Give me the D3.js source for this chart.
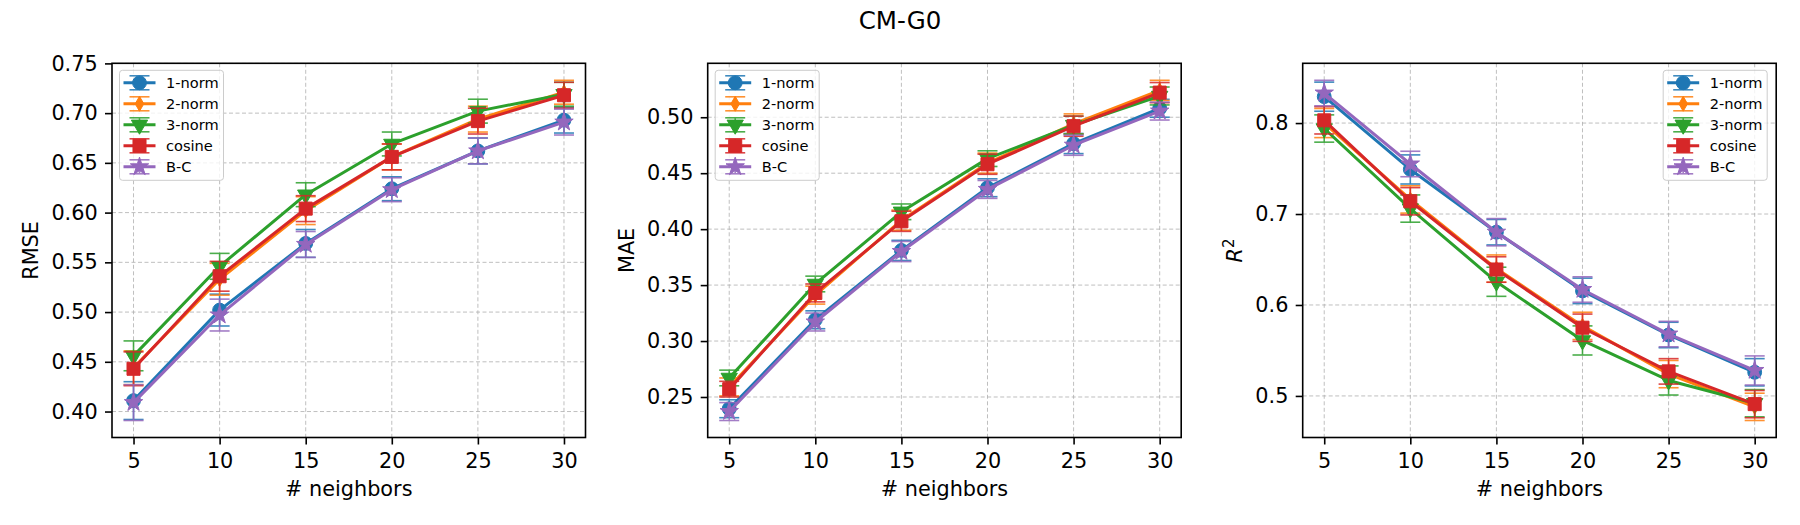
<!DOCTYPE html>
<html>
<head>
<meta charset="utf-8">
<script src="https://cdn.jsdelivr.net/npm/d3@7"></script>
<style>
  body { margin: 0; background: #fff; }
  text { font-family: "DejaVu Sans", sans-serif; fill: #000; }
</style>
</head>
<body>
<div id="chart"></div>
<script>
// data
const neighbors = [5, 10, 15, 20, 25, 30];
const seriesNames = ["1-norm", "2-norm", "3-norm", "cosine", "B-C"];
const seriesColors = ["#1f77b4", "#ff7f0e", "#2ca02c", "#d62728", "#9467bd"];
const seriesMarkers = ["circle", "diamond", "triangleDown", "square", "star"];

// one row per series, in seriesNames order
const rmseMean = [
  [0.411, 0.502, 0.569, 0.624, 0.662, 0.693],
  [0.444, 0.533, 0.602, 0.656, 0.694, 0.721],
  [0.456, 0.546, 0.618, 0.669, 0.702, 0.719],
  [0.443, 0.536, 0.604, 0.656, 0.692, 0.718],
  [0.409, 0.497, 0.568, 0.623, 0.662, 0.691]
];
const rmseErr = [
  [0.019, 0.016, 0.014, 0.012, 0.013, 0.013],
  [0.017, 0.016, 0.014, 0.013, 0.013, 0.012],
  [0.015, 0.013, 0.012, 0.012, 0.012, 0.012],
  [0.017, 0.015, 0.013, 0.013, 0.013, 0.013],
  [0.018, 0.016, 0.013, 0.012, 0.013, 0.013]
];
const maeMean = [
  [0.2395, 0.319, 0.381, 0.437, 0.4765, 0.508],
  [0.259, 0.341, 0.408, 0.459, 0.494, 0.524],
  [0.267, 0.351, 0.4155, 0.463, 0.493, 0.519],
  [0.257, 0.343, 0.407, 0.458, 0.492, 0.522],
  [0.237, 0.317, 0.380, 0.4355, 0.475, 0.5055]
];
const maeErr = [
  [0.008, 0.008, 0.009, 0.008, 0.009, 0.008],
  [0.008, 0.008, 0.009, 0.009, 0.009, 0.009],
  [0.007, 0.007, 0.007, 0.007, 0.008, 0.008],
  [0.007, 0.008, 0.009, 0.009, 0.009, 0.009],
  [0.008, 0.008, 0.009, 0.008, 0.009, 0.008]
];
const r2Mean = [
  [0.829, 0.749, 0.680, 0.6155, 0.567, 0.526],
  [0.800, 0.716, 0.640, 0.577, 0.524, 0.488],
  [0.794, 0.706, 0.6255, 0.561, 0.517, 0.492],
  [0.803, 0.714, 0.639, 0.575, 0.527, 0.491],
  [0.833, 0.755, 0.680, 0.617, 0.568, 0.528]
];
const r2Err = [
  [0.016, 0.016, 0.014, 0.014, 0.014, 0.015],
  [0.016, 0.015, 0.015, 0.015, 0.015, 0.015],
  [0.015, 0.015, 0.016, 0.016, 0.016, 0.015],
  [0.015, 0.015, 0.014, 0.015, 0.014, 0.015],
  [0.014, 0.014, 0.015, 0.014, 0.014, 0.016]
];
const rmseTicks = [0.40, 0.45, 0.50, 0.55, 0.60, 0.65, 0.70, 0.75];
const maeTicks = [0.25, 0.30, 0.35, 0.40, 0.45, 0.50];
const r2Ticks = [0.5, 0.6, 0.7, 0.8];

const panels = [
  { ylabel: "RMSE", mean: rmseMean, err: rmseErr, ticks: rmseTicks, fmt: ".2f", legend: "left" },
  { ylabel: "MAE", mean: maeMean, err: maeErr, ticks: maeTicks, fmt: ".2f", legend: "left" },
  { ylabel: "R2", mean: r2Mean, err: r2Err, ticks: r2Ticks, fmt: ".1f", legend: "right" }
];

const W = 1800, H = 525;
const panelLeft = [112, 707.7, 1302.7];
const panelTop = 63.3, pw = 473.5, ph = 374.2;
const tickFont = 20.8;

const svg = d3.select("#chart").append("svg")
  .attr("width", W).attr("height", H)
  .attr("viewBox", `0 0 ${W} ${H}`);
svg.append("rect").attr("width", W).attr("height", H).attr("fill", "#fff");

svg.append("text")
  .attr("x", W / 2).attr("y", 28.5)
  .attr("text-anchor", "middle")
  .style("font-size", "24.5px")
  .text("CM-G0");

function markerPath(kind) {
  if (kind === "circle") return d3.symbol(d3.symbolCircle, 150)();
  if (kind === "diamond") return d3.symbol(d3.symbolDiamond, 64)();
  if (kind === "triangleDown") return d3.symbol(d3.symbolTriangle, 115)();
  if (kind === "square") return d3.symbol(d3.symbolSquare, 170)();
  return d3.symbol(d3.symbolStar, 105)();
}
function markerTransform(kind, x, y) {
  return kind === "triangleDown" ? `translate(${x},${y}) rotate(180)` : `translate(${x},${y})`;
}

panels.forEach((p, pi) => {
  const g = svg.append("g").attr("transform", `translate(${panelLeft[pi]},${panelTop})`);

  // x scale with matplotlib-like 5% margins
  const xSpan = d3.max(neighbors) - d3.min(neighbors);
  const x = d3.scaleLinear()
    .domain([d3.min(neighbors) - xSpan * 0.05, d3.max(neighbors) + xSpan * 0.05])
    .range([0, pw]);

  const lo = d3.min(p.mean.flatMap((row, i) => row.map((v, j) => v - p.err[i][j])));
  const hi = d3.max(p.mean.flatMap((row, i) => row.map((v, j) => v + p.err[i][j])));
  const pad = (hi - lo) * 0.05;
  const y = d3.scaleLinear().domain([lo - pad, hi + pad]).range([ph, 0]);

  // grid
  g.append("g").selectAll("line").data(neighbors).join("line")
    .attr("x1", d => x(d)).attr("x2", d => x(d))
    .attr("y1", 0).attr("y2", ph)
    .attr("stroke", "#b0b0b0").attr("stroke-width", 1)
    .attr("stroke-dasharray", "4,2.5").attr("opacity", 0.8);
  g.append("g").selectAll("line").data(p.ticks).join("line")
    .attr("x1", 0).attr("x2", pw)
    .attr("y1", d => y(d)).attr("y2", d => y(d))
    .attr("stroke", "#b0b0b0").attr("stroke-width", 1)
    .attr("stroke-dasharray", "4,2.5").attr("opacity", 0.8);

  // axes
  const xAxis = g.append("g")
    .attr("transform", `translate(0,${ph})`)
    .call(d3.axisBottom(x).tickValues(neighbors).tickSize(7).tickPadding(8.5).tickFormat(d3.format("d")));
  const yAxis = g.append("g")
    .call(d3.axisLeft(y).tickValues(p.ticks).tickSize(7).tickPadding(7.3).tickFormat(d3.format(p.fmt)));
  [xAxis, yAxis].forEach(a => {
    a.select(".domain").remove();
    a.selectAll(".tick line").attr("stroke", "#000").attr("stroke-width", 1.6);
    a.selectAll(".tick text").style("font-size", tickFont + "px").attr("fill", "#000");
  });

  // series
  p.mean.forEach((row, si) => {
    const color = seriesColors[si];
    const pts = neighbors.map((n, j) => ({ n, v: row[j], e: p.err[si][j] }));
    const eb = g.append("g").attr("stroke", color).attr("stroke-width", 1.6).attr("opacity", 0.85);
    eb.selectAll(".bar").data(pts).join("line")
      .attr("x1", d => x(d.n)).attr("x2", d => x(d.n))
      .attr("y1", d => y(d.v - d.e)).attr("y2", d => y(d.v + d.e));
    eb.selectAll(".capLo").data(pts).join("line")
      .attr("x1", d => x(d.n) - 10).attr("x2", d => x(d.n) + 10)
      .attr("y1", d => y(d.v - d.e)).attr("y2", d => y(d.v - d.e));
    eb.selectAll(".capHi").data(pts).join("line")
      .attr("x1", d => x(d.n) - 10).attr("x2", d => x(d.n) + 10)
      .attr("y1", d => y(d.v + d.e)).attr("y2", d => y(d.v + d.e));

    g.append("path").datum(pts)
      .attr("fill", "none").attr("stroke", color).attr("stroke-width", 3)
      .attr("stroke-linejoin", "round")
      .attr("d", d3.line().x(d => x(d.n)).y(d => y(d.v)));

    g.append("g").selectAll("path").data(pts).join("path")
      .attr("d", markerPath(seriesMarkers[si]))
      .attr("transform", d => markerTransform(seriesMarkers[si], x(d.n), y(d.v)))
      .attr("fill", color).attr("stroke", color).attr("stroke-width", 1);
  });

  // frame
  g.append("rect").attr("width", pw).attr("height", ph)
    .attr("fill", "none").attr("stroke", "#000").attr("stroke-width", 1.6);

  // axis labels
  g.append("text")
    .attr("x", pw / 2).attr("y", ph + 58.5)
    .attr("text-anchor", "middle")
    .style("font-size", tickFont + "px")
    .text("# neighbors");

  const tickW = d3.max(yAxis.selectAll(".tick text").nodes(), n => n.getComputedTextLength());
  const ylab = g.append("text")
    .attr("transform", `translate(${-(14.3 + tickW + 13.5)},${ph / 2}) rotate(-90)`)
    .attr("text-anchor", "middle")
    .style("font-size", tickFont + "px");
  if (p.ylabel === "R2") {
    ylab.append("tspan").style("font-style", "italic").text("R");
    ylab.append("tspan").attr("dy", -8).style("font-size", "15px").text("2");
  } else {
    ylab.text(p.ylabel);
  }

  // legend
  const lw = 104, lh = 110, rowH = 21;
  const lx = p.legend === "left" ? 7.5 : pw - 9 - lw;
  const lg = g.append("g").attr("transform", `translate(${lx},7)`);
  lg.append("rect").attr("width", lw).attr("height", lh).attr("rx", 3)
    .attr("fill", "#fff").attr("fill-opacity", 0.8)
    .attr("stroke", "#cccccc").attr("stroke-width", 1);
  seriesNames.forEach((name, si) => {
    const cy = 12.5 + si * rowH, color = seriesColors[si];
    const row = lg.append("g");
    row.append("line").attr("x1", 4).attr("x2", 36).attr("y1", cy).attr("y2", cy)
      .attr("stroke", color).attr("stroke-width", 3);
    const eb = row.append("g").attr("stroke", color).attr("stroke-width", 1.6).attr("opacity", 0.85);
    eb.append("line").attr("x1", 20).attr("x2", 20).attr("y1", cy - 7).attr("y2", cy + 7);
    eb.append("line").attr("x1", 10).attr("x2", 30).attr("y1", cy - 7).attr("y2", cy - 7);
    eb.append("line").attr("x1", 10).attr("x2", 30).attr("y1", cy + 7).attr("y2", cy + 7);
    row.append("path").attr("d", markerPath(seriesMarkers[si]))
      .attr("transform", markerTransform(seriesMarkers[si], 20, cy))
      .attr("fill", color).attr("stroke", color).attr("stroke-width", 1);
    row.append("text").attr("x", 46.5).attr("y", cy + 5.2)
      .style("font-size", "14.6px").text(name);
  });
});
</script>
</body>
</html>
